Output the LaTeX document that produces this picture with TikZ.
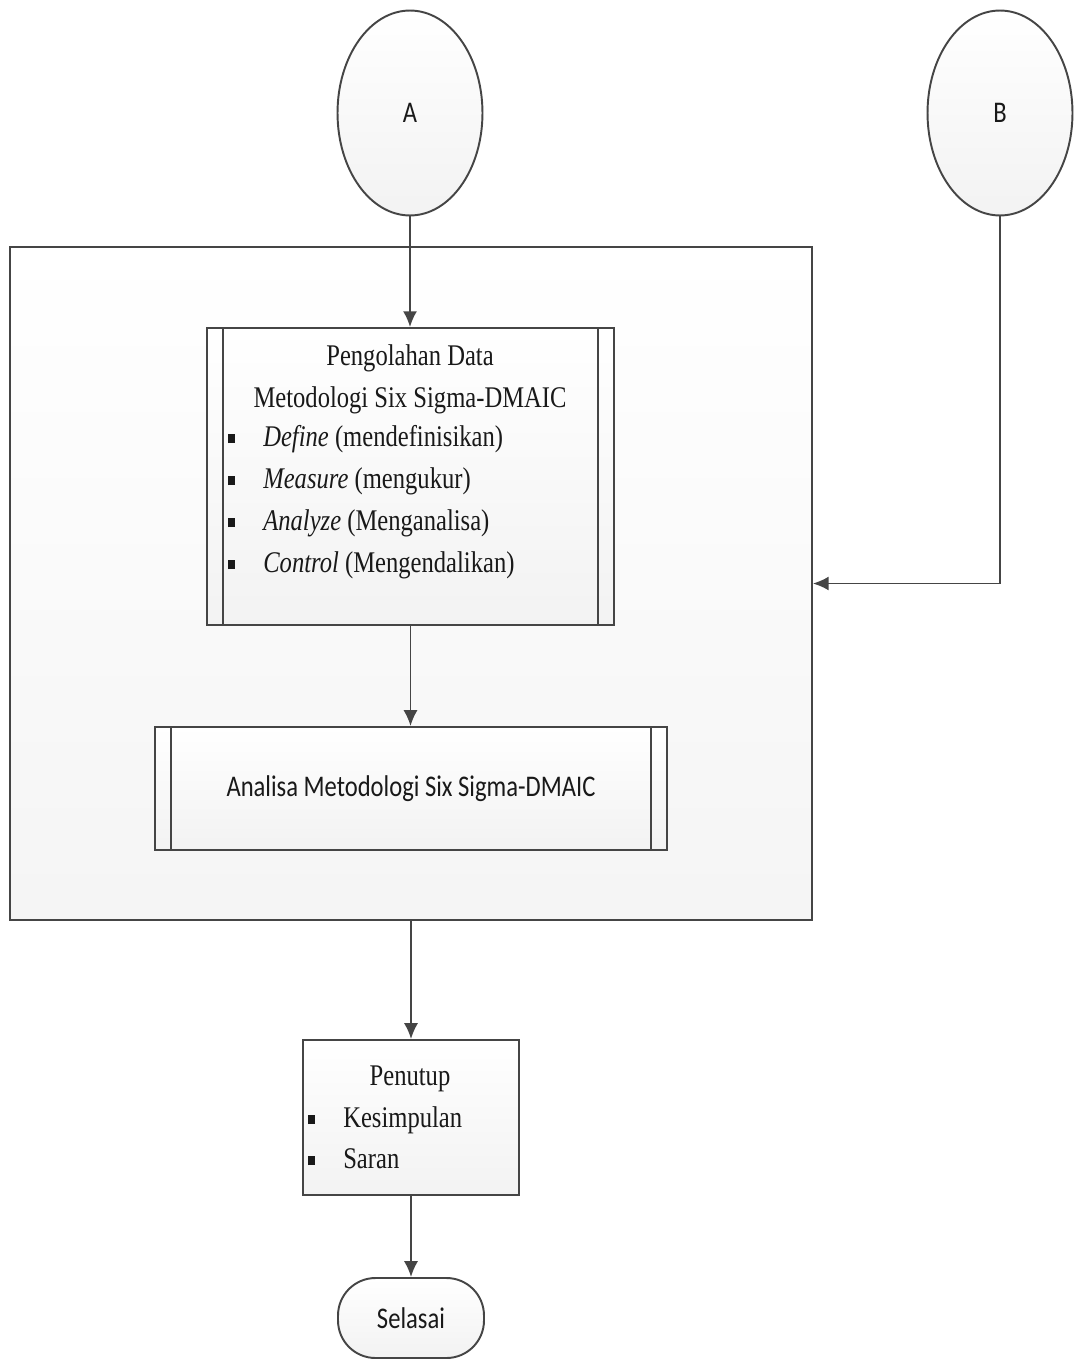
\documentclass[tikz,border=0pt]{standalone}
\usepackage{fontspec}
\usepackage{graphicx}
\setmainfont{Liberation Serif}
\newfontfamily\calfont{Carlito}
\usetikzlibrary{shapes.geometric,arrows.meta}
\newcommand{\vs}[1]{\scalebox{1}[1.22]{#1}}
\newcommand{\sqb}{\rule[1.3pt]{4pt}{4.4pt}\hspace{15.9pt}}
\definecolor{ln}{HTML}{454545}
\tikzset{
 shp/.style={draw=ln, line width=1.1pt, top color=white, bottom color=black!5},
 arr/.style={draw=ln, line width=1.1pt, -{Latex[length=9pt,width=8pt]}},
 inner/.style={draw=ln, line width=1.1pt},
 ser/.style={font=\fontsize{14}{17}\selectfont, text=black!90, inner sep=0pt},
 sans/.style={font=\calfont\fontsize{14}{17}\selectfont, text=black!90, inner sep=0pt},
}
\begin{document}
\begin{tikzpicture}[x=0.02cm,y=-0.02cm]
\useasboundingbox (0,0) rectangle (1079,1362);
% big frame
\node[shp, top color=white, bottom color=black!4, minimum width=16.04cm, minimum height=13.46cm] (big) at (411,583.5) {};
% connectors circles
\node[shp, ellipse, minimum width=2.9cm, minimum height=4.1cm, sans] (A) at (410,113) {\vs{A}};
\node[shp, ellipse, minimum width=2.9cm, minimum height=4.1cm, sans] (B) at (1000,113) {\vs{B}};
% process 1
\node[shp, minimum width=8.14cm, minimum height=5.94cm] (b1) at (410.5,476.5) {};
\draw[inner] ([xshift=0.34cm]b1.north west) -- ([xshift=0.34cm]b1.south west);
\draw[inner] ([xshift=-0.34cm]b1.north east) -- ([xshift=-0.34cm]b1.south east);
\node[ser, anchor=base] (h1) at (410,365) {\vs{Pengolahan Data}};
\node[ser, anchor=base] (h2) at (410,407) {\vs{Metodologi Six Sigma-DMAIC}};
\node[ser, anchor=base west] (l1) at (228,446) {\vs{\sqb\textit{Define} (mendefinisikan)}};
\node[ser, anchor=base west] (l2) at (228,488) {\vs{\sqb\textit{Measure} (mengukur)}};
\node[ser, anchor=base west] (l3) at (228,530) {\vs{\sqb\textit{Analyze} (Menganalisa)}};
\node[ser, anchor=base west] (l4) at (228,572) {\vs{\sqb\textit{Control} (Mengendalikan)}};
% process 2
\node[shp, minimum width=10.24cm, minimum height=2.46cm, sans] (b2) at (411,788.5) {\vs{Analisa Metodologi Six Sigma-DMAIC}};
\draw[inner] ([xshift=0.34cm]b2.north west) -- ([xshift=0.34cm]b2.south west);
\draw[inner] ([xshift=-0.34cm]b2.north east) -- ([xshift=-0.34cm]b2.south east);
% penutup
\node[shp, minimum width=4.32cm, minimum height=3.1cm] (pen) at (411,1117.5) {};
\node[ser, anchor=base] (p0) at (410,1085) {\vs{Penutup}};
\node[ser, anchor=base west] (p1) at (308,1127) {\vs{\sqb Kesimpulan}};
\node[ser, anchor=base west] (p2) at (308,1168) {\vs{\sqb Saran}};
% end
\node[shp, rounded corners=0.75cm, minimum width=2.92cm, minimum height=1.6cm, sans] (end) at (411,1318) {\vs{Selasai}};
% arrows
\draw[arr] (A.south) -- (A.south |- b1.north);
\draw[arr] (b1.south) -- (b1.south |- b2.north);
\draw[arr] (big.south) -- (big.south |- pen.north);
\draw[arr] (pen.south) -- (pen.south |- end.north);
\draw[arr] (B.south) |- (big.east);
\end{tikzpicture}
\end{document}
